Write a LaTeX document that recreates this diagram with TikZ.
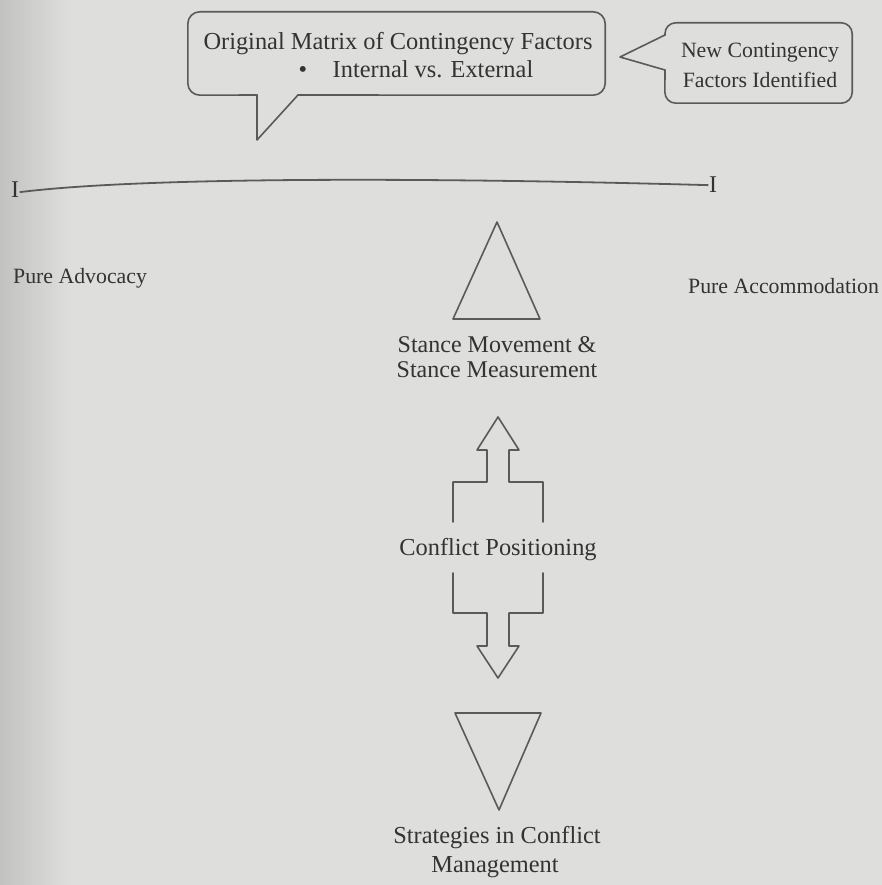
\documentclass[tikz,border=0pt]{standalone}
\usepackage{fontspec}
\setmainfont{Liberation Serif}
\definecolor{bgcol}{HTML}{DEDEDC}
\definecolor{bgdark}{HTML}{C2C2C0}
\definecolor{ink}{HTML}{333333}
\definecolor{linecol}{HTML}{5A5A5A}
\begin{document}
\begin{tikzpicture}[x=1pt,y=-1pt,
  outline/.style={draw=linecol,line width=1.6pt,line join=round,line cap=round},
  txt/.style={text=ink,inner sep=0pt,anchor=base},
  big/.style={font=\fontsize{24.4}{27}\selectfont},
  mid/.style={font=\fontsize{24}{24}\selectfont},
  small/.style={font=\fontsize{21.8}{27}\selectfont}]
\useasboundingbox (0,0) rectangle (882,885);
\fill[bgcol] (0,0) rectangle (882,885);
\shade[left color=bgdark,right color=bgcol] (0,0) rectangle (70,885);

% ---- callout 1
\node[minimum width=417pt,minimum height=83pt,inner sep=0pt] (box1) at (396.5,53.5) {};
\coordinate (t1a) at (257,95);
\coordinate (t1b) at (298,95);
\coordinate (t1tip) at (257,140);
\draw[outline,rounded corners=12pt] (t1a) -- (box1.south west) -- (box1.north west)
  -- (box1.north east) -- (box1.south east) -- (t1b);
\draw[outline] (t1a) -- (t1tip) -- (t1b);
\node[txt,big] (orig) at (398,50) {Original Matrix of Contingency Factors};
\node[txt,big] (bul) at (303,78) {•};
\node[txt,big] (intl) at (433,78) {Internal vs. External};

% ---- callout 2
\node[minimum width=187pt,minimum height=80pt,inner sep=0pt] (box2) at (758.5,63) {};
\coordinate (t2a) at (665,35);
\coordinate (t2b) at (665,70);
\coordinate (t2tip) at (620,57);
\draw[outline,rounded corners=11pt] (t2a) -- (box2.north west) -- (box2.north east)
  -- (box2.south east) -- (box2.south west) -- (t2b);
\draw[outline] (t2a) -- (t2tip) -- (t2b);
\node[txt,small] (new1) at (760,58) {New Contingency};
\node[txt,small] (new2) at (760,88) {Factors Identified};

% ---- scale line
\node[txt,font=\fontsize{24}{24}\selectfont] (ileft) at (15,198) {I};
\node[txt,font=\fontsize{24}{24}\selectfont] (iright) at (713,193) {I};
\draw[draw=linecol,line width=1.8pt] ([xshift=0.5pt,yshift=-2pt]ileft.east) .. controls (150,176) and (450,178) .. ([xshift=-0.5pt]iright.west);
\node[txt,small,anchor=base west] (adv) at (13,283) {Pure Advocacy};
\node[txt,small,anchor=base west] (acc) at (688,293) {Pure Accommodation};

% ---- upper triangle
\coordinate (ua) at (497,222);
\coordinate (ub) at (540,319);
\coordinate (uc) at (453,319);
\draw[outline] (ua) -- (ub) -- (uc) -- cycle;
\node[txt,mid] (st1) at (497,352) {Stance Movement \&};
\node[txt,mid] (st2) at (497,377) {Stance Measurement};

% ---- double arrow
\draw[outline] (453,522) -- (453,482) -- (487,482) -- (487,450) -- (477,450) -- (498,417)
  -- (519,450) -- (509,450) -- (509,482) -- (543,482) -- (543,522);
\node[txt,big] (conf) at (498,555) {Conflict Positioning};
\draw[outline] (453,573) -- (453,613) -- (487,613) -- (487,646) -- (477,646) -- (498,678)
  -- (519,646) -- (509,646) -- (509,613) -- (543,613) -- (543,573);

% ---- lower triangle
\coordinate (la) at (455,713);
\coordinate (lb) at (541,713);
\coordinate (lc) at (499,810);
\draw[outline] (la) -- (lb) -- (lc) -- cycle;
\node[txt,big] (str1) at (497,843) {Strategies in Conflict};
\node[txt,big] (str2) at (495,872) {Management};
\end{tikzpicture}
\end{document}
